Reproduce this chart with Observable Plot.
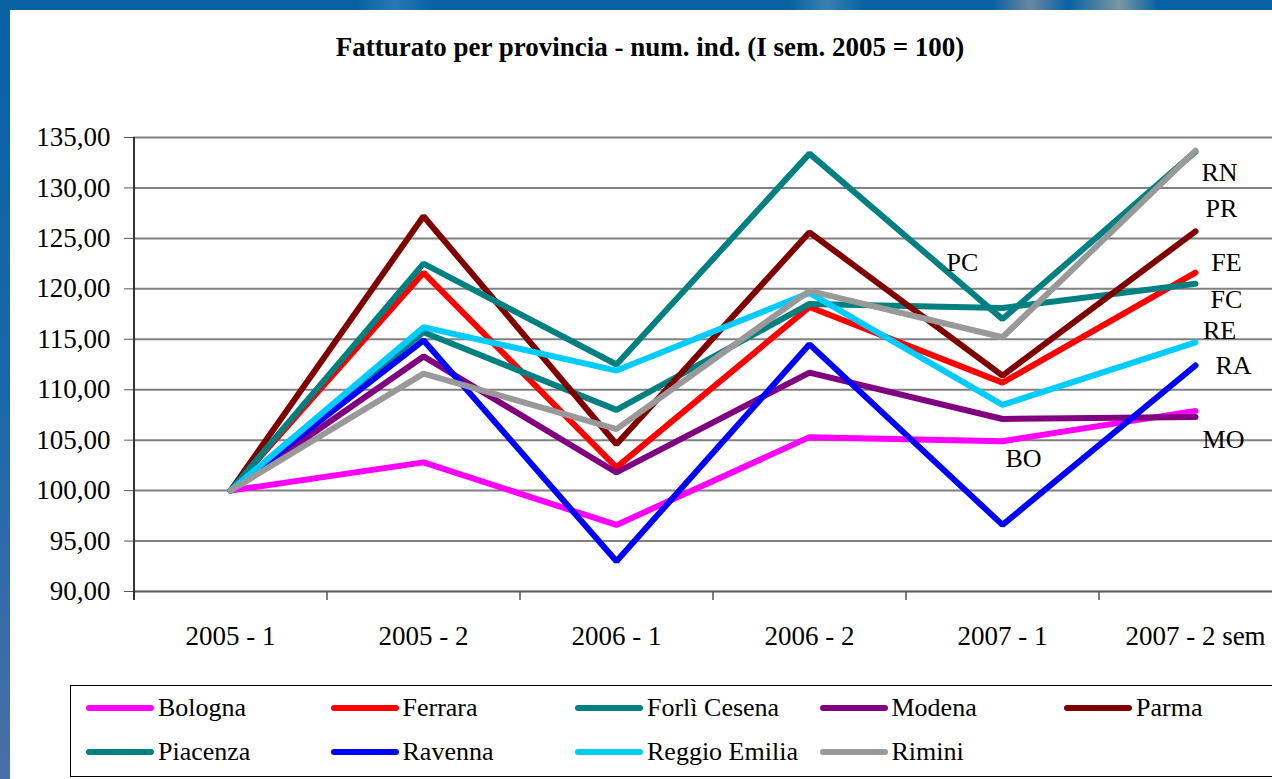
<!DOCTYPE html>
<html>
<head>
<meta charset="utf-8">
<script src="https://cdn.jsdelivr.net/npm/d3@7"></script>
<script src="https://cdn.jsdelivr.net/npm/@observablehq/plot@0.6"></script>
<style>
  html, body { margin: 0; padding: 0; }
  body { width: 1272px; height: 779px; overflow: hidden; position: relative;
         background: linear-gradient(180deg, #0762a3 0%, #1a68a8 50%, #4a6fa6 100%);
         font-family: "Liberation Serif", "Times New Roman", serif; }
  #topband { position: absolute; left: 0; top: 0; width: 1272px; height: 10px;
         background: linear-gradient(90deg, #0762a3 0%, #0762a3 28%, #2a78b4 31%, #0762a3 34%, #0762a3 62%, #3a80b0 65%, #0762a3 68%, #0762a3 78%, #6a88a0 81%, #0762a3 84%, #7a98a0 88%, #0762a3 91%, #0762a3 100%); }
  #panel { position: absolute; left: 10px; top: 10px; width: 1262px; height: 769px; background: #fff; }
  #title { position: absolute; left: 0; top: 32px; width: 1300px; text-align: center;
         font-weight: bold; font-size: 27px; line-height: 31px; color: #000; }
  #chart { position: absolute; left: 0; top: 100px; width: 1291px; }
  #legend { position: absolute; left: 70px; top: 685px; width: 1230px; height: 92px;
         border: 1.5px solid #000; box-sizing: border-box; background: #fff;
         display: grid; grid-template-columns: repeat(5, 244.5px); grid-auto-rows: 44px;
         padding-left: 15px; padding-top: 0px; }
  .item { display: flex; align-items: center; font-size: 26px; color: #000; white-space: nowrap; }
  .item svg { margin-right: 4px; flex: none; }
</style>
</head>
<body>
<div id="topband"></div>
<div id="panel"></div>
<div id="title">Fatturato per provincia - num. ind. (I sem. 2005 = 100)</div>
<div id="chart"></div>
<div id="legend"></div>
<script>
// ---- data ----
const periods = ["2005 - 1", "2005 - 2", "2006 - 1", "2006 - 2", "2007 - 1", "2007 - 2 sem"];
const yTicks = [90, 95, 100, 105, 110, 115, 120, 125, 130, 135];

const seriesNames = ["Bologna", "Ferrara", "Forlì Cesena", "Modena", "Parma",
                     "Piacenza", "Ravenna", "Reggio Emilia", "Rimini"];
const bologna      = [100, 102.8,  96.6, 105.3, 104.9, 107.9];
const ferrara      = [100, 121.6, 102.3, 118.2, 110.7, 121.6];
const forliCesena  = [100, 115.7, 108.0, 118.5, 118.1, 120.5];
const modena       = [100, 113.3, 101.8, 111.7, 107.1, 107.3];
const parma        = [100, 127.2, 104.6, 125.6, 111.4, 125.7];
const piacenza     = [100, 122.5, 112.5, 133.4, 117.0, 133.6];
const ravenna      = [100, 114.9,  93.0, 114.5,  96.6, 112.4];
const reggioEmilia = [100, 116.2, 111.9, 119.6, 108.5, 114.7];
const rimini       = [100, 111.6, 106.1, 119.8, 115.2, 133.7];
const seriesValues = [bologna, ferrara, forliCesena, modena, parma, piacenza, ravenna, reggioEmilia, rimini];
const seriesColors = ["#ff00ff", "#ff0000", "#008080", "#800080", "#800000",
                      "#008080", "#0000ff", "#00ccff", "#999999"];

// in-chart province codes: text, period, value
const labelTexts   = ["RN", "PR", "PC", "FE", "FC", "RE", "RA", "MO", "BO"];
const labelPeriods = ["2007 - 2 sem", "2007 - 2 sem", "2007 - 1", "2007 - 2 sem", "2007 - 2 sem",
                      "2007 - 2 sem", "2007 - 2 sem", "2007 - 2 sem", "2007 - 1"];
const labelValues  = [131.5, 127.9, 122.6, 122.6, 118.9, 115.9, 112.4, 105.0, 103.2];
const labelDx      = [24, 26, -40, 31, 31, 24, 38, 28, 21];

// ---- build ----
const fmt = d => d.toFixed(2).replace(".", ",");
const W = 1291, ML = 133;
const step = (W - ML) / periods.length;

const lineMarks = seriesNames.map((name, i) =>
  Plot.line(periods.map((p, j) => ({period: p, value: seriesValues[i][j]})), {
    x: "period", y: "value", stroke: seriesColors[i], strokeWidth: 6,
    strokeLinejoin: "miter", strokeLinecap: "round"
  })
);

const labels = labelTexts.map((t, i) => ({text: t, period: labelPeriods[i], value: labelValues[i], dx: labelDx[i]}));

const chart = Plot.plot({
  width: W,
  height: 570,
  marginLeft: ML,
  marginRight: 0,
  marginTop: 37,
  marginBottom: 79,
  style: "max-width:none; background:transparent; overflow:visible; font-family:'Liberation Serif','Times New Roman',serif; font-size:27px; color:#000;",
  x: {type: "point", domain: periods, padding: 0.5, label: null},
  y: {domain: [90, 135], label: null},
  marks: [
    Plot.ruleY(yTicks.filter(d => d > 90), {stroke: "#808080", strokeWidth: 2}),
    Plot.ruleY([90], {stroke: "#555", strokeWidth: 2}),
    Plot.ruleX(periods, {x: d => d, y1: 90, y2: 89.1, dx: -step / 2, stroke: "#555", strokeWidth: 1.5}),
    Plot.ruleX([periods[0]], {x: d => d, y1: 89.1, y2: 135, dx: -step / 2, stroke: "#333", strokeWidth: 2}),
    Plot.axisY({ticks: yTicks, tickFormat: fmt, tickSize: 9, tickPadding: 14, stroke: "#555", fill: "#000", fontSize: 27}),
    Plot.axisX({tickSize: 0, tickPadding: 34, fill: "#000", fontSize: 27}),
    ...lineMarks,
    ...labels.map(l => Plot.text([l], {x: "period", y: "value", text: "text", dx: l.dx,
                                        fontSize: 26, fill: "#000", textAnchor: "middle"}))
  ]
});
document.getElementById("chart").appendChild(chart);

// ---- legend ----
const legend = document.getElementById("legend");
seriesNames.forEach((name, i) => {
  const item = document.createElement("div");
  item.className = "item";
  item.innerHTML = `<svg width="68" height="10"><line x1="3" y1="5" x2="65" y2="5" stroke="${seriesColors[i]}" stroke-width="6" stroke-linecap="round"/></svg><span>${name}</span>`;
  legend.appendChild(item);
});
</script>
</body>
</html>
